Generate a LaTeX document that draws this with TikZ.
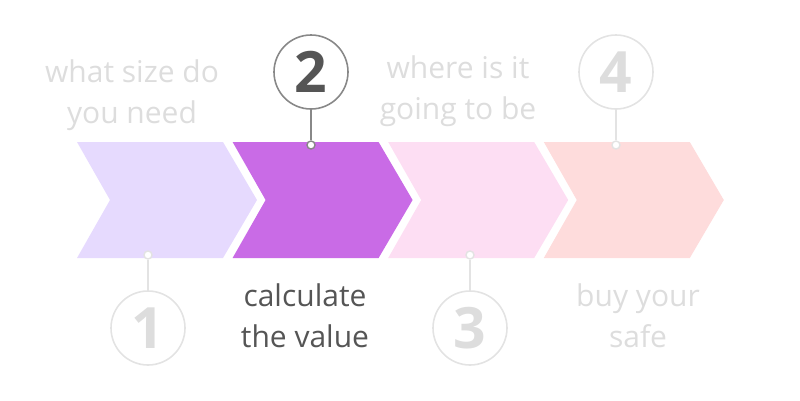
\documentclass[tikz,border=0pt]{standalone}
\usepackage{fontspec}
\setmainfont{Open Sans}
\usepackage{xcolor}

\definecolor{stepA}{HTML}{E6DAFE}
\definecolor{stepB}{HTML}{C96BE6}
\definecolor{stepC}{HTML}{FDDEF3}
\definecolor{stepD}{HTML}{FEDCDC}
\definecolor{faded}{HTML}{DDDDDD}
\definecolor{ringfaded}{HTML}{E3E3E3}
\definecolor{active}{HTML}{555555}
\definecolor{ringactive}{HTML}{888888}

\tikzset{
  numring/.style={circle, draw=ringfaded, line width=1.6pt, minimum size=74pt, inner sep=0pt,
    text=faded, font=\fontsize{57}{57}\selectfont\bfseries},
  pin/.style={circle, draw=ringfaded, fill=white, line width=1.4pt, minimum size=8pt, inner sep=0pt},
  caption/.style={align=center, text=faded, font=\fontsize{30}{41}\selectfont},
  onstep/.style={draw=ringactive, text=active}
}

\begin{document}
\begin{tikzpicture}[x=1pt, y=-1pt]
        \useasboundingbox (0,0) rectangle (800,400);

        % chevrons
        \foreach \i/\c in {0/stepA,1/stepB,2/stepC,3/stepD}
          \fill[\c] ({77+155.6*\i},142) -- ++(146,0) -- ++(34,58) -- ++(-34,58)
            -- ++(-146,0) -- ++(33,-58) -- cycle;

        % numbers
        \node[numring] (n1) at (148,328) {1};
        \node[numring, onstep] (n2) at (311,72) {2};
        \node[numring] (n3) at (470,328) {3};
        \node[numring] (n4) at (616,72) {4};

        \node[pin] (d1) at (148,255) {};
        \node[pin, draw=ringactive] (d2) at (311,145) {};
        \node[pin] (d3) at (470,255) {};
        \node[pin] (d4) at (616,145) {};

        \draw[ringfaded, line width=1.6pt] (n1) -- (d1);
        \draw[ringactive, line width=1.6pt] (n2) -- (d2);
        \draw[ringfaded, line width=1.6pt] (n3) -- (d3);
        \draw[ringfaded, line width=1.6pt] (n4) -- (d4);

        % captions
        \node[caption] (t1) at (132,95) {what size do\\you need};
        \node[caption, text=active] (t2) at (305,316) {calculate\\the value};
        \node[caption] (t3) at (458,91) {where is it\\going to be};
        \node[caption] (t4) at (638,316) {buy your\\safe};
\end{tikzpicture}
\end{document}
